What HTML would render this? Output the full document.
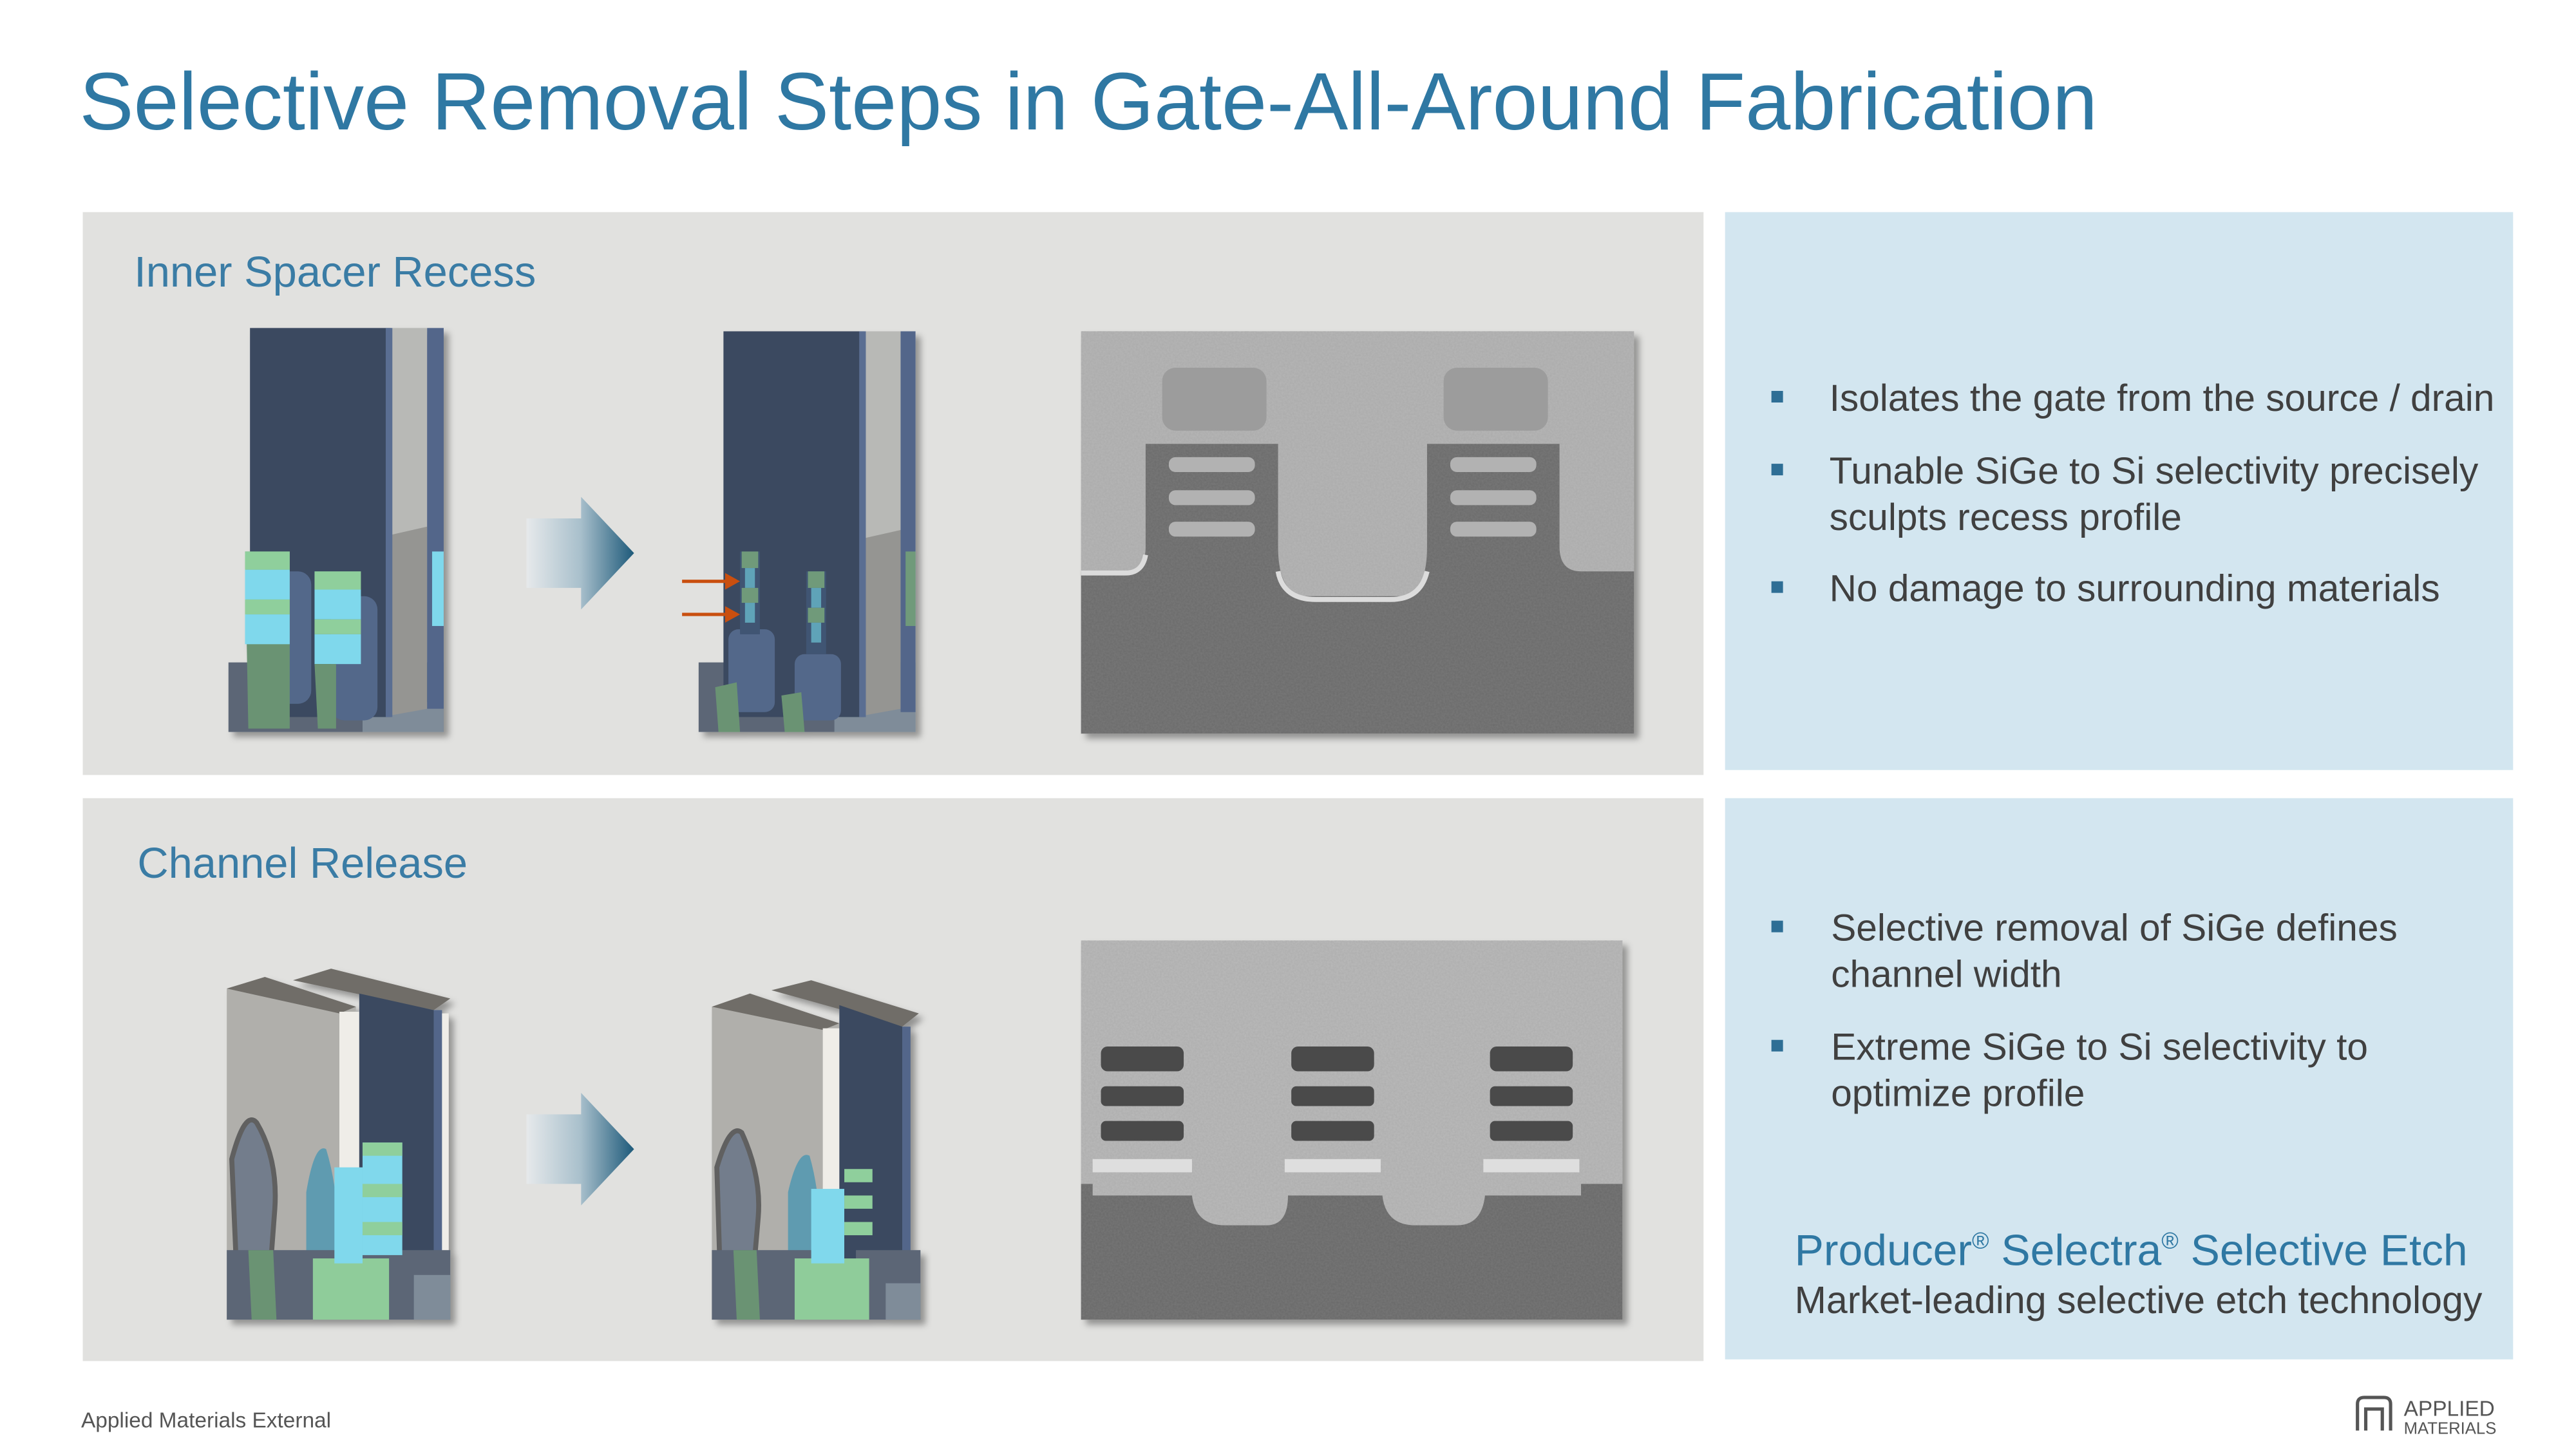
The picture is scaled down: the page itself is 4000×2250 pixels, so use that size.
<!DOCTYPE html>
<html><head><meta charset="utf-8"><style>
html,body{margin:0;padding:0;background:#fff;}
svg{display:block;}
text{font-family:"Liberation Sans",Arial,sans-serif;}
</style></head><body>
<svg width="4000" height="2250" viewBox="0 0 1556 875" xmlns="http://www.w3.org/2000/svg">
<defs>
<linearGradient id="ag" x1="0" x2="1" y1="0" y2="0">
<stop offset="0" stop-color="#e6e9eb"/><stop offset="0.5" stop-color="#a9c0cc"/><stop offset="1" stop-color="#1e5a7a"/>
</linearGradient>
<filter id="sh" x="-5%" y="-5%" width="115%" height="115%"><feDropShadow dx="3" dy="3" stdDeviation="2" flood-color="#000" flood-opacity="0.35"/></filter>
<filter id="noise" x="0" y="0" width="1" height="1" filterUnits="objectBoundingBox"><feTurbulence type="fractalNoise" baseFrequency="0.9" numOctaves="2" seed="3"/><feColorMatrix type="matrix" values="0 0 0 0 0.3 0 0 0 0 0.3 0 0 0 0 0.3 0 0 0 0.35 0"/></filter>
</defs>
<rect width="1556" height="875" fill="#fff"/>
<text x="48" y="78" font-size="49" fill="#2f78a3" textLength="1219" lengthAdjust="spacingAndGlyphs">Selective Removal Steps in Gate-All-Around Fabrication</text>

<rect x="50" y="128" width="979" height="340" fill="#e1e1df"/>
<rect x="1042" y="128" width="476" height="337" fill="#d3e6f0"/>
<rect x="50" y="482" width="979" height="340" fill="#e1e1df"/>
<rect x="1042" y="482" width="476" height="339" fill="#d3e6f0"/>

<text x="81" y="173" font-size="26" fill="#3a7ca5">Inner Spacer Recess</text>
<text x="83" y="530" font-size="26" fill="#3a7ca5">Channel  Release</text>

<g filter="url(#sh)">
<rect x="138" y="400" width="130" height="42" fill="#5b6676"/>
<rect x="219" y="424" width="49" height="18" fill="#7f8c99"/>
<rect x="151" y="198" width="85" height="235" fill="#3b4a60"/>
<rect x="236" y="198" width="22" height="125" fill="#b8b9b6"/>
<polygon points="236,323 258,318 258,428 236,432" fill="#959592"/>
<rect x="233" y="198" width="4" height="235" fill="#5a6e92"/>
<rect x="258" y="198" width="10" height="230" fill="#52668a"/>
<rect x="160" y="345" width="28" height="80" rx="8" fill="#53678a"/>
<rect x="200" y="360" width="28" height="75" rx="8" fill="#53678a"/>
<polygon points="148,333 175,333 175,440 150,440" fill="#6a9373"/>
<rect x="148" y="333" width="27" height="11" fill="#8fcf9c"/>
<rect x="148" y="344" width="27" height="18" fill="#7fd8ec"/>
<rect x="148" y="362" width="27" height="9" fill="#8fcf9c"/>
<rect x="148" y="371" width="27" height="18" fill="#7fd8ec"/>
<rect x="190" y="345" width="28" height="11" fill="#8fcf9c"/>
<rect x="190" y="356" width="28" height="18" fill="#7fd8ec"/>
<rect x="190" y="374" width="28" height="9" fill="#8fcf9c"/>
<rect x="190" y="383" width="28" height="18" fill="#7fd8ec"/>
<polygon points="190,401 203,401 203,440 192,440" fill="#6a9373"/>
<rect x="261" y="333" width="7" height="45" fill="#7fd8ec"/>
</g>

<polygon points="318,313 351,313 351,300 383,334 351,368 351,355 318,355" fill="url(#ag)"/>

<g filter="url(#sh)">
<rect x="422" y="400" width="131" height="42" fill="#5b6676"/>
<rect x="504" y="424" width="49" height="18" fill="#7f8c99"/>
<rect x="437" y="200" width="85" height="233" fill="#3b4a60"/>
<rect x="522" y="200" width="22" height="125" fill="#b8b9b6"/>
<polygon points="522,325 544,320 544,428 522,432" fill="#959592"/>
<rect x="519" y="200" width="4" height="233" fill="#5a6e92"/>
<rect x="544" y="200" width="9" height="230" fill="#52668a"/>
<rect x="440" y="380" width="28" height="50" rx="6" fill="#53678a"/>
<rect x="480" y="395" width="28" height="40" rx="6" fill="#53678a"/>
<rect x="447" y="333" width="12" height="50" fill="#3f5473"/>
<rect x="448" y="333" width="10" height="10" fill="#6f9a7a"/>
<rect x="450" y="343" width="6" height="12" fill="#5fa3b8"/>
<rect x="448" y="355" width="10" height="9" fill="#6f9a7a"/>
<rect x="450" y="364" width="6" height="12" fill="#5fa3b8"/>
<rect x="487" y="345" width="12" height="50" fill="#3f5473"/>
<rect x="488" y="345" width="10" height="10" fill="#6f9a7a"/>
<rect x="490" y="355" width="6" height="12" fill="#5fa3b8"/>
<rect x="488" y="367" width="10" height="9" fill="#6f9a7a"/>
<rect x="490" y="376" width="6" height="12" fill="#5fa3b8"/>
<polygon points="432,415 445,412 447,442 434,442" fill="#6a9373"/>
<polygon points="472,420 484,418 486,442 474,442" fill="#6a9373"/>
<rect x="547" y="333" width="6" height="45" fill="#6f9a7a"/>
</g>
<line x1="412" y1="351" x2="440" y2="351" stroke="#c94f0f" stroke-width="2"/>
<polygon points="438,346 447,351 438,356" fill="#c94f0f"/>
<line x1="412" y1="371" x2="440" y2="371" stroke="#c94f0f" stroke-width="2"/>
<polygon points="438,366 447,371 438,376" fill="#c94f0f"/>

<g filter="url(#sh)">
<rect x="653" y="200" width="334" height="243" fill="#b6b6b6"/>
<path d="M653,345 L680,345 Q692,345 692,330 L692,268 L772,268 L772,330 Q772,360 790,360 L845,360 Q862,360 862,330 L862,268 L942,268 L942,330 Q942,345 955,345 L987,345 L987,443 L653,443 Z" fill="#6a6a6a"/>
</g>
<rect x="653" y="200" width="334" height="243" filter="url(#noise)"/>
<rect x="702" y="222" width="63" height="38" rx="8" fill="#9c9c9c"/>
<rect x="872" y="222" width="63" height="38" rx="8" fill="#9c9c9c"/>
<g fill="#b2b2b2">
<rect x="706" y="276" width="52" height="9" rx="4"/><rect x="706" y="296" width="52" height="9" rx="4"/><rect x="706" y="315" width="52" height="9" rx="4"/>
<rect x="876" y="276" width="52" height="9" rx="4"/><rect x="876" y="296" width="52" height="9" rx="4"/><rect x="876" y="315" width="52" height="9" rx="4"/>
</g>
<path d="M772,345 Q775,362 795,362 L840,362 Q858,362 862,345" fill="none" stroke="#dcdcdc" stroke-width="3"/>
<path d="M653,346 L680,346 Q690,346 692,335" fill="none" stroke="#dcdcdc" stroke-width="3"/>

<g filter="url(#sh)">
<polygon points="137,597 160,590 215,608 215,797 137,797" fill="#b0afab"/>
<polygon points="137,597 160,590 215,608 205,612" fill="#6f6d68"/>
<rect x="205" y="611" width="12" height="135" fill="#efede8"/>
<polygon points="177,592 200,585 272,603 262,610" fill="#6f6d68"/>
<polygon points="217,600 262,610 262,780 217,780" fill="#3b4a60"/>
<rect x="262" y="610" width="5" height="170" fill="#52668a"/>
<rect x="267" y="612" width="4" height="165" fill="#efede8"/>
<path d="M140,700 Q148,670 155,678 Q168,700 166,730 L163,770 L143,770 Z" fill="#737d8c" stroke="#606060" stroke-width="3"/>
<path d="M185,720 Q190,690 197,694 Q205,720 205,760 L185,760 Z" fill="#5e9bb0"/>
<rect x="137" y="755" width="135" height="42" fill="#5b6676"/>
<polygon points="150,755 165,755 167,797 152,797" fill="#6a9373"/>
<rect x="189" y="760" width="46" height="37" fill="#8fcc9a"/>
<rect x="202" y="705" width="17" height="58" fill="#80d8ec"/>
<rect x="219" y="690" width="24" height="68" fill="#80d8ec"/>
<rect x="219" y="690" width="24" height="8" fill="#8fcf9c"/>
<rect x="219" y="715" width="24" height="8" fill="#8fcf9c"/>
<rect x="219" y="738" width="24" height="8" fill="#8fcf9c"/>
<rect x="250" y="770" width="22" height="27" fill="#7f8c99"/>
</g>

<polygon points="318,673 351,673 351,660 383,694 351,728 351,715 318,715" fill="url(#ag)"/>

<g filter="url(#sh)">
<polygon points="430,608 453,600 507,618 507,797 430,797" fill="#b0afab"/>
<polygon points="430,608 453,600 507,618 497,622" fill="#6f6d68"/>
<rect x="497" y="621" width="12" height="130" fill="#efede8"/>
<polygon points="466,598 490,592 555,612 545,620" fill="#6f6d68"/>
<polygon points="507,607 545,620 545,780 507,780" fill="#3b4a60"/>
<rect x="545" y="620" width="5" height="160" fill="#52668a"/>
<path d="M433,705 Q441,678 448,684 Q460,710 458,735 L455,770 L435,770 Z" fill="#737d8c" stroke="#606060" stroke-width="3"/>
<path d="M476,720 Q482,694 489,698 Q496,722 496,760 L476,760 Z" fill="#5e9bb0"/>
<rect x="430" y="755" width="126" height="42" fill="#5b6676"/>
<polygon points="443,755 457,755 459,797 445,797" fill="#6a9373"/>
<rect x="480" y="760" width="45" height="37" fill="#8fcc9a"/>
<rect x="490" y="718" width="20" height="45" fill="#80d8ec"/>
<rect x="510" y="705" width="7" height="55" fill="#3b4a60"/>
<rect x="510" y="706" width="17" height="8" fill="#8fcf9c"/>
<rect x="510" y="722" width="17" height="8" fill="#8fcf9c"/>
<rect x="510" y="738" width="17" height="8" fill="#8fcf9c"/>
<rect x="535" y="775" width="21" height="22" fill="#7f8c99"/>
</g>

<g filter="url(#sh)">
<rect x="653" y="568" width="327" height="229" fill="#bababa"/>
<path d="M653,715 L660,715 L660,722 L720,722 Q722,740 740,740 L765,740 Q778,740 778,722 L835,722 Q837,740 855,740 L880,740 Q895,740 897,722 L955,722 L955,715 L980,715 L980,797 L653,797 Z" fill="#686868"/>
</g>
<rect x="653" y="568" width="327" height="229" filter="url(#noise)"/>
<g fill="#4a4a4a">
<rect x="665" y="632" width="50" height="15" rx="4"/><rect x="665" y="656" width="50" height="12" rx="3"/><rect x="665" y="677" width="50" height="12" rx="3"/>
<rect x="780" y="632" width="50" height="15" rx="4"/><rect x="780" y="656" width="50" height="12" rx="3"/><rect x="780" y="677" width="50" height="12" rx="3"/>
<rect x="900" y="632" width="50" height="15" rx="4"/><rect x="900" y="656" width="50" height="12" rx="3"/><rect x="900" y="677" width="50" height="12" rx="3"/>
</g>
<g fill="#dedede">
<rect x="660" y="700" width="60" height="8"/><rect x="776" y="700" width="58" height="8"/><rect x="896" y="700" width="58" height="8"/>
</g>

<g font-size="22.8" fill="#404040">
<rect x="1070" y="236" width="7" height="7" fill="#2e6e95"/>
<text x="1105" y="248">Isolates the gate from the source / drain</text>
<rect x="1070" y="280" width="7" height="7" fill="#2e6e95"/>
<text x="1105" y="292">Tunable SiGe to Si selectivity precisely</text>
<text x="1105" y="320">sculpts recess profile</text>
<rect x="1070" y="351" width="7" height="7" fill="#2e6e95"/>
<text x="1105" y="363">No damage to surrounding materials</text>
<rect x="1070" y="556" width="7" height="7" fill="#2e6e95"/>
<text x="1106" y="568">Selective removal of SiGe defines</text>
<text x="1106" y="596">channel width</text>
<rect x="1070" y="628" width="7" height="7" fill="#2e6e95"/>
<text x="1106" y="640">Extreme SiGe to Si selectivity to</text>
<text x="1106" y="668">optimize profile</text>
</g>
<text x="1084" y="764" font-size="26.4" fill="#2f78a3">Producer<tspan font-size="14" dy="-10">®</tspan><tspan dy="10"> Selectra</tspan><tspan font-size="14" dy="-10">®</tspan><tspan dy="10"> Selective  Etch</tspan></text>
<text x="1084" y="793" font-size="23" fill="#404040">Market-leading selective etch technology</text>

<text x="49" y="862" font-size="13" fill="#555">Applied Materials External</text>
<g fill="none" stroke="#555" stroke-width="2">
<path d="M1424,864 L1424,848 Q1424,844 1428,844 L1440,844 Q1444,844 1444,848 L1444,864"/>
<path d="M1429,864 L1429,851 L1439,851 L1439,864"/>
</g>
<text x="1452" y="855" font-size="13" fill="#555">APPLIED</text>
<text x="1452" y="866" font-size="10" fill="#555">MATERIALS</text>
</svg>
</body></html>
